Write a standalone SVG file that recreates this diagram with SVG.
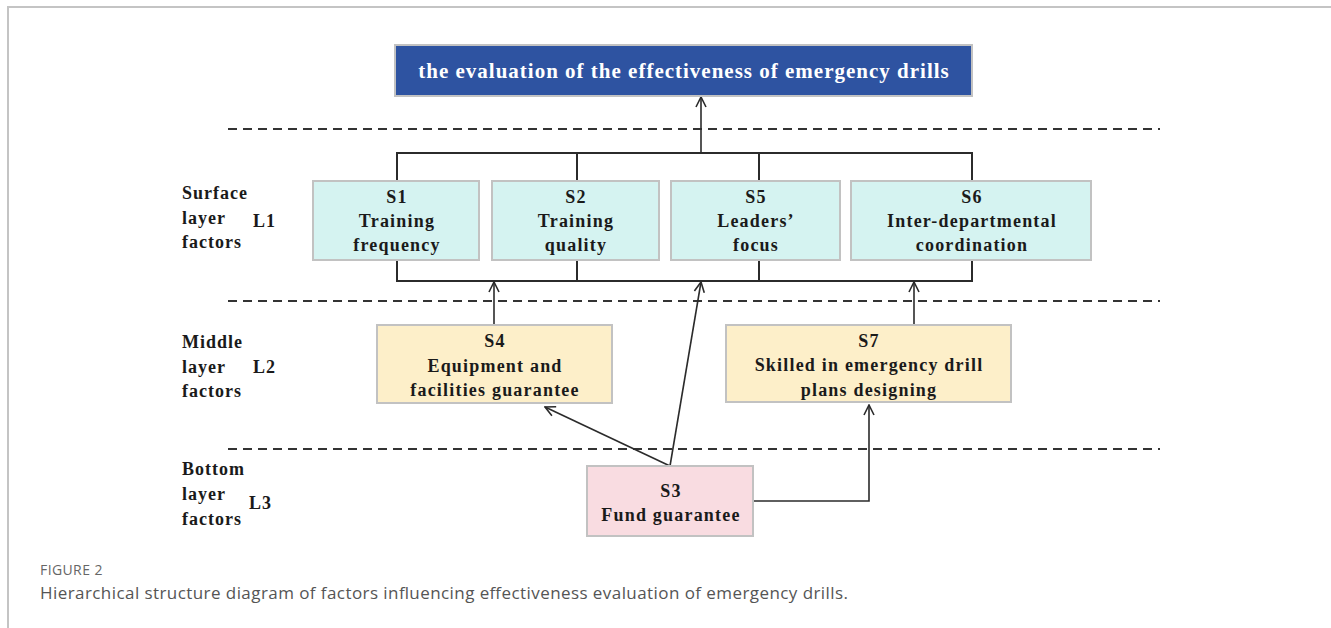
<svg xmlns="http://www.w3.org/2000/svg" width="1331" height="628" viewBox="0 0 1331 628">
  <style>
    .frame { stroke: #c4c4c4; stroke-width: 2; fill: none; }
    .box-l1 { fill: #d5f3f1; stroke: #c2c2c2; stroke-width: 2; }
    .box-l2 { fill: #fdefc9; stroke: #c2c2c2; stroke-width: 2; }
    .box-l3 { fill: #f9dce1; stroke: #c2c2c2; stroke-width: 2; }
    .box-top { fill: #2e53a1; stroke: #c2c2c2; stroke-width: 2; }
    .t { font-family: "Liberation Serif", "Times New Roman", serif; font-weight: bold; font-size: 18px; letter-spacing: 1.2px; fill: #1a1a1a; text-anchor: middle; }
    .lab { font-family: "Liberation Serif", "Times New Roman", serif; font-weight: bold; font-size: 18px; letter-spacing: 1px; fill: #1a1a1a; }
    .title { font-family: "Liberation Serif", "Times New Roman", serif; font-weight: bold; font-size: 21px; letter-spacing: 1px; fill: #ffffff; text-anchor: middle; }
    .dash { stroke: #333; stroke-width: 2; stroke-dasharray: 9 6; fill: none; }
    .wire { stroke: #2b2b2b; stroke-width: 2; fill: none; }
    .arr { stroke: #2b2b2b; stroke-width: 1.6; fill: none; marker-end: url(#open); }
    .cap1 { font-family: "Open Sans", "Noto Sans", sans-serif; font-size: 14px; letter-spacing: 0.4px; fill: #666; }
    .cap2 { font-family: "Open Sans", "Noto Sans", sans-serif; font-size: 17px; fill: #555; }
  </style>
  <defs>
    <marker id="open" viewBox="0 0 12 12" refX="11" refY="6" markerWidth="12" markerHeight="12" markerUnits="userSpaceOnUse" orient="auto">
      <path d="M1,1 L11,6 L1,11" fill="none" stroke="#2b2b2b" stroke-width="1.6"/>
    </marker>
  </defs>

  <rect width="1331" height="628" fill="#ffffff"/>
  <!-- figure frame -->
  <path class="frame" d="M1331,7 H8 V628"/>

  <!-- layer separators -->
  <g id="separators">
    <line class="dash" x1="228" y1="129" x2="1160" y2="129"/>
    <line class="dash" x1="228" y1="301" x2="1160" y2="301"/>
    <line class="dash" x1="228" y1="449" x2="1160" y2="449"/>
  </g>

  <!-- layer labels -->
  <g id="layer-labels">
    <text class="lab" x="182" y="199">Surface</text>
    <text class="lab" x="182" y="224">layer</text>
    <text class="lab" x="182" y="248">factors</text>
    <text class="lab" x="253" y="227">L1</text>
    <text class="lab" x="182" y="348">Middle</text>
    <text class="lab" x="182" y="373">layer</text>
    <text class="lab" x="182" y="397">factors</text>
    <text class="lab" x="253" y="373">L2</text>
    <text class="lab" x="182" y="475">Bottom</text>
    <text class="lab" x="182" y="500">layer</text>
    <text class="lab" x="182" y="525">factors</text>
    <text class="lab" x="249" y="509">L3</text>
  </g>

  <!-- connectors -->
  <g id="connectors">
    <path class="wire" d="M397,181 V153 H972 V181 M577,153 V181 M759,153 V181"/>
    <path class="wire" d="M397,260 V281 H972 V260 M577,260 V281 M759,260 V281"/>
    <path class="arr" d="M701,153 V97"/>
    <path class="arr" d="M494,325 V282"/>
    <path class="arr" d="M914,325 V282"/>
    <path class="arr" d="M670,466 L701,282"/>
    <path class="arr" d="M670,466 L545,407"/>
    <path class="arr" d="M753,501 H869 V405"/>
  </g>

  <g id="goal">
    <rect class="box-top" x="395" y="45" width="577" height="51"/>
    <text class="title" x="684" y="78">the evaluation of the effectiveness of emergency drills</text>
  </g>

  <g id="S1">
    <rect class="box-l1" x="313" y="181" width="166" height="79"/>
    <text class="t" x="397" y="203">S1</text>
    <text class="t" x="397" y="227">Training</text>
    <text class="t" x="397" y="251">frequency</text>
  </g>
  <g id="S2">
    <rect class="box-l1" x="492" y="181" width="167" height="79"/>
    <text class="t" x="576" y="203">S2</text>
    <text class="t" x="576" y="227">Training</text>
    <text class="t" x="576" y="251">quality</text>
  </g>
  <g id="S5">
    <rect class="box-l1" x="671" y="181" width="169" height="79"/>
    <text class="t" x="756" y="203">S5</text>
    <text class="t" x="756" y="227">Leaders’</text>
    <text class="t" x="756" y="251">focus</text>
  </g>
  <g id="S6">
    <rect class="box-l1" x="851" y="181" width="240" height="79"/>
    <text class="t" x="972" y="203">S6</text>
    <text class="t" x="972" y="227">Inter-departmental</text>
    <text class="t" x="972" y="251">coordination</text>
  </g>

  <g id="S4">
    <rect class="box-l2" x="377" y="325" width="235" height="78"/>
    <text class="t" x="495" y="347">S4</text>
    <text class="t" x="495" y="372">Equipment and</text>
    <text class="t" x="495" y="396">facilities guarantee</text>
  </g>
  <g id="S7">
    <rect class="box-l2" x="726" y="325" width="285" height="77"/>
    <text class="t" x="869" y="347">S7</text>
    <text class="t" x="869" y="371">Skilled in emergency drill</text>
    <text class="t" x="869" y="396">plans designing</text>
  </g>

  <g id="S3">
    <rect class="box-l3" x="587" y="466" width="166" height="70"/>
    <text class="t" x="671" y="497">S3</text>
    <text class="t" x="671" y="521">Fund guarantee</text>
  </g>

  <g id="caption">
    <text class="cap1" x="40" y="575">FIGURE 2</text>
    <text class="cap2" x="40" y="599" textLength="808" lengthAdjust="spacing">Hierarchical structure diagram of factors influencing effectiveness evaluation of emergency drills.</text>
  </g>
</svg>
